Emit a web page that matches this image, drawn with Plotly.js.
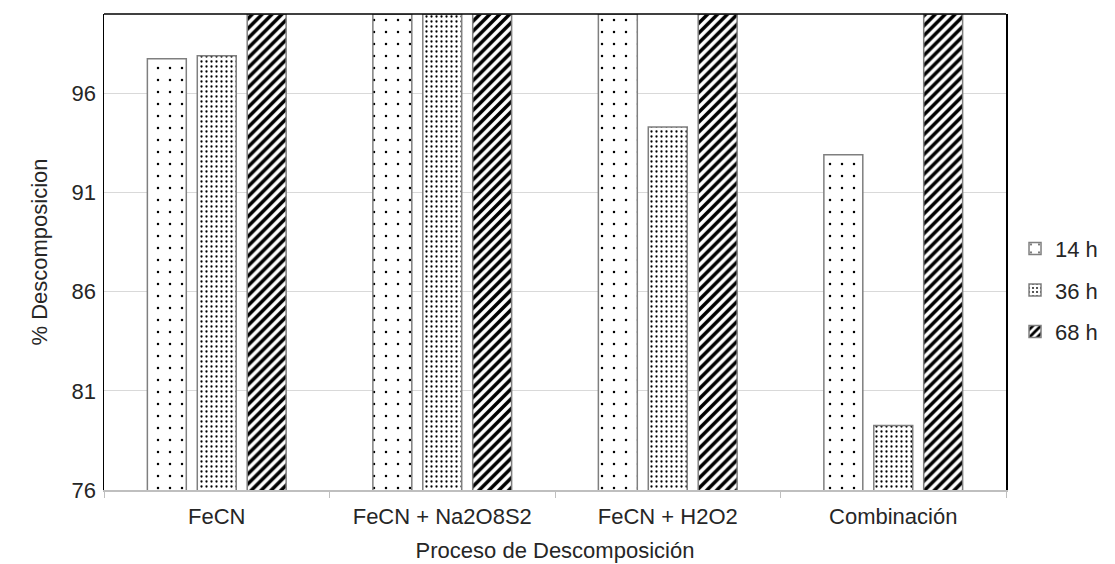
<!DOCTYPE html>
<html>
<head>
<meta charset="utf-8">
<script src="https://cdn.plot.ly/plotly-3.0.1.min.js"></script>
<style>html,body{margin:0;padding:0;background:#fff;}#chart{width:1115px;height:564px;}</style>
</head>
<body>
<div id="chart"></div>
<script>
const categories = ["FeCN", "FeCN + Na2O8S2", "FeCN + H2O2", "Combinación"];
const seriesNames = ["14 h", "36 h", "68 h"];
const values14h = [97.75, 100, 100, 92.9];
const values36h = [97.9, 100, 94.3, 79.25];
const values68h = [100, 100, 100, 100];
const yTickVals = [76, 81, 86, 91, 96];

const FONT = "Liberation Sans, Arial, sans-serif";
const TXT = "#262626";
const FS = 22;
const outline = {color: "#7f7f7f", width: 1.5};

const traces = [
  {name: seriesNames[0], y: values14h,
   pattern: {shape: ".", size: 12, solidity: 0.035, fgcolor: "#000", bgcolor: "#fff", fillmode: "replace"}},
  {name: seriesNames[1], y: values36h,
   pattern: {shape: ".", size: 5, solidity: 0.16, fgcolor: "#000", bgcolor: "#fff", fillmode: "replace"}},
  {name: seriesNames[2], y: values68h,
   pattern: {shape: "/", size: 7, solidity: 0.5, fgcolor: "#000", bgcolor: "#fff", fillmode: "replace"}}
].map((t, i) => ({
  type: "bar",
  name: t.name,
  x: categories,
  y: t.y,
  legendgroup: "g" + i,
  marker: {color: "#fff", line: outline, pattern: t.pattern},
  hoverinfo: "x+y+name"
}));

const layout = {
  width: 1115, height: 564,
  margin: {l: 104, r: 107, t: 14, b: 74, pad: 0},
  paper_bgcolor: "#fff", plot_bgcolor: "#fff",
  font: {family: FONT, size: FS, color: TXT},
  barmode: "group",
  bargap: 0.336,
  bargroupgap: 0.22,
  showlegend: true,
  legend: {x: 1.01, xanchor: "left", y: 0.42, yanchor: "middle",
           font: {family: FONT, size: FS, color: TXT},
           itemwidth: 30, tracegroupgap: 10, bgcolor: "rgba(0,0,0,0)"},
  xaxis: {
    type: "category",
    showline: true, linecolor: "#bfbfbf", linewidth: 1.5,
    ticks: "outside", tickson: "boundaries", ticklen: 6, tickcolor: "#bfbfbf", tickwidth: 1,
    ticklabelstandoff: 6,
    showgrid: false, zeroline: false,
    tickfont: {family: FONT, size: FS, color: TXT},
    title: {text: "Proceso de Descomposición", font: {family: FONT, size: FS, color: TXT}, standoff: 14}
  },
  yaxis: {
    range: [76, 100],
    tickvals: yTickVals,
    ticktext: yTickVals.map(String),
    showline: true, linecolor: "#000", linewidth: 1.5, mirror: true,
    ticks: "", ticklabelstandoff: 2,
    showgrid: true, gridcolor: "#d9d9d9", gridwidth: 1,
    zeroline: false,
    tickfont: {family: FONT, size: FS, color: TXT},
    title: {text: "% Descomposicion", font: {family: FONT, size: FS, color: TXT}, standoff: 18}
  },
  shapes: [
    {type: "line", xref: "paper", yref: "paper", x0: 0, x1: 1, y0: 1, y1: 1,
     line: {color: "#000", width: 1.5}}
  ]
};

Plotly.newPlot("chart", traces, layout, {displayModeBar: false, staticPlot: true});
</script>
</body>
</html>
